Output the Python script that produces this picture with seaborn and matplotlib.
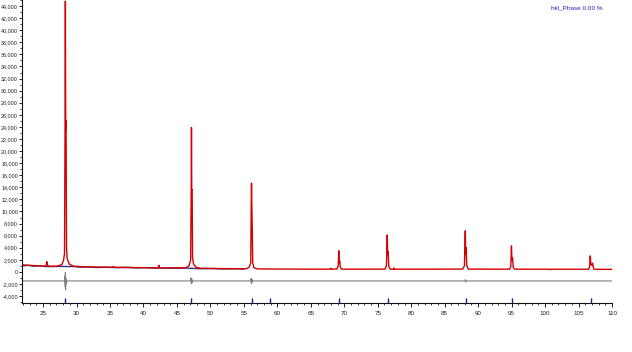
import matplotlib
matplotlib.use("Agg")
import matplotlib.pyplot as plt
import matplotlib.ticker as mticker
from matplotlib import font_manager
import seaborn as sns
import pandas as pd

# ---- data (2theta in degrees, counts) ----
calc_x = [22.0, 23.5, 25.3, 25.45, 25.55, 25.65, 25.8, 27.0, 27.8, 28.05, 28.2,
          28.28, 28.33, 28.38, 28.43, 28.50, 28.6, 28.9, 29.5, 31.0,
          35.3, 35.5, 35.7, 38.5, 42.2, 42.3, 42.4, 46.3, 46.8, 47.05,
          47.13, 47.17, 47.21, 47.27, 47.33, 47.45, 47.8, 48.5, 50.0,
          55.4, 55.8, 56.03, 56.10, 56.14, 56.19, 56.25, 56.32, 56.5, 57.0,
          60.0, 66.4, 67.9, 68.0, 68.1, 68.9, 69.1, 69.18, 69.24, 69.32, 69.4, 69.6,
          76.1, 76.3, 76.42, 76.48, 76.55, 76.65, 76.85, 77.35, 77.4, 77.45,
          87.7, 87.95, 88.08, 88.14, 88.2, 88.3, 88.55,
          94.7, 94.88, 94.98, 95.04, 95.14, 95.25, 95.5,
          100.7, 100.8, 100.9, 106.5, 106.65, 106.75, 106.85, 107.0, 107.1, 107.25,
          107.5, 110.0]
calc_y = [1150, 1050, 950, 1000, 1700, 1200, 950, 930, 1200, 1900, 3000,
          23000, 44800, 23500, 25000, 4000, 2200, 1300, 950, 850,
          760, 900, 760, 720, 660, 1100, 660, 680, 1000, 2000,
          13500, 23900, 13500, 13600, 2500, 1400, 800, 600, 560,
          520, 800, 1500, 11400, 14700, 11000, 7300, 1500, 700, 500,
          470, 450, 450, 600, 450, 480, 1000, 3500, 1500, 1800, 800, 450,
          460, 1000, 6100, 3000, 3400, 900, 450, 450, 650, 450,
          460, 1000, 6800, 3000, 4000, 1000, 460,
          450, 900, 4300, 2000, 2300, 700, 450,
          440, 350, 440, 440, 800, 2650, 1200, 1100, 1440, 500,
          430, 420]

obs_x = [22.0, 22.8, 23.6, 24.4, 25.2, 26.2, 27.0, 29.6, 30.6, 31.8, 33.0, 34.4,
         36.2, 37.6, 39.0, 40.4, 41.6, 43.4, 44.8, 46.0, 48.6, 50.2, 52.0, 53.6, 55.0]
obs_y = [1000, 1080, 940, 1000, 900, 880, 900, 880, 780, 820, 720, 760,
         700, 740, 650, 700, 620, 640, 600, 640, 520, 560, 480, 520, 470]

diff_x = [22.0, 28.2, 28.28, 28.31, 28.33, 28.36, 28.40, 28.45, 28.55,
          47.0, 47.1, 47.15, 47.2, 47.25, 47.35,
          56.0, 56.08, 56.13, 56.18, 56.25, 56.35,
          88.05, 88.1, 88.15, 88.2, 110.0]
diff_y = [-1500, -1500, -700, -2500, -100, -3000, -1000, -2000, -1500,
          -1500, -1000, -1900, -1100, -1800, -1500,
          -1500, -1100, -1900, -1200, -1700, -1500,
          -1500, -1300, -1650, -1500, -1500]

hkl_pos = [28.33, 47.17, 56.14, 58.83, 69.2, 76.47, 88.13, 95.0, 106.8]
hkl_top = -4400
legend_text = "hkl_Phase 0.00 %"

x_ticks = list(range(25, 111, 5))
y_ticks = list(range(-4000, 44001, 2000))

# ---- drawing ----
sns.set_style("white")

narrow_ok = True
try:
    font_manager.findfont(font_manager.FontProperties(family="Liberation Sans Narrow"),
                          fallback_to_default=False)
except Exception:
    narrow_ok = False

if narrow_ok:
    plt.rcParams['font.family'] = ['Liberation Sans Narrow', 'DejaVu Sans']
    tick_fs = 4.6
else:
    plt.rcParams['font.family'] = ['Liberation Sans', 'DejaVu Sans']
    tick_fs = 3.9

fig = plt.figure(figsize=(6.32, 3.52), dpi=100)
ax = fig.add_axes([22/632, 1 - 303/352, (612-22)/632, 303/352])

calc = pd.DataFrame({"x": calc_x, "y": calc_y})
obs = pd.DataFrame({"x": obs_x, "y": obs_y})
diff = pd.DataFrame({"x": diff_x, "y": diff_y})

sns.lineplot(data=obs, x="x", y="y", sort=False, estimator=None, ax=ax,
             color="#3a2a80", lw=1.0)
sns.lineplot(data=calc, x="x", y="y", sort=False, estimator=None, ax=ax,
             color="#d40000", lw=1.0)
sns.lineplot(data=diff, x="x", y="y", sort=False, estimator=None, ax=ax,
             color="#7f7f7f", lw=0.8)

ax.vlines(hkl_pos, -5200, hkl_top, color="#1a1aa0", lw=1.0)

ax.set_xlim(21.85, 110)
ax.set_ylim(-5150, 45000)

ax.set_xticks(x_ticks)
ax.xaxis.set_minor_locator(mticker.MultipleLocator(1))
ax.set_yticks(y_ticks)
ax.yaxis.set_minor_locator(mticker.MultipleLocator(1000))
ax.yaxis.set_major_formatter(mticker.FuncFormatter(lambda v, p: f"{int(v):,}"))
ax.xaxis.set_major_formatter(mticker.FuncFormatter(lambda v, p: f"{int(v)}"))

ax.tick_params(axis="y", which="major", direction="out", length=2, width=0.7,
               labelsize=tick_fs, colors="#222222", pad=0.8)
ax.tick_params(axis="x", which="major", direction="out", length=3, width=0.7,
               labelsize=tick_fs + 0.6, colors="#222222", pad=3)
ax.tick_params(axis="both", which="minor", direction="out", length=1.5, width=0.6,
               colors="#222222")
ax.tick_params(left=True, bottom=True, which="both")

for s in ["top", "right"]:
    ax.spines[s].set_visible(False)
for s in ["left", "bottom"]:
    ax.spines[s].set_color("#111111")
    ax.spines[s].set_linewidth(0.8)

ax.set_xlabel("")
ax.set_ylabel("")

ax.text(603/632, 0.985, legend_text, transform=fig.transFigure,
        ha="right", va="top", fontsize=4.6, color="#2020c0")

fig.savefig("out.png", dpi=100, facecolor="white")
